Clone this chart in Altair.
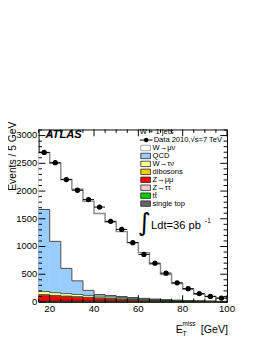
import altair as alt
import pandas as pd

# ---------------- data ----------------
bin_lo = [15, 20, 25, 30, 35, 40, 45, 50, 55, 60, 65, 70, 75, 80, 85, 90, 95]
bin_w = 5
data_vals = [2697, 2511, 2207, 2014, 1846, 1711, 1454, 1308, 1070, 858, 700, 520, 345, 240, 152, 100, 70]

single_top = [3, 3, 4, 4, 4, 4, 4, 4, 3, 3, 3, 3, 2, 2, 2, 1, 1]
ttbar = [5, 6, 7, 8, 8, 9, 9, 9, 9, 8, 8, 7, 6, 5, 5, 4, 3]
z_tautau = [8, 7, 6, 5, 4, 4, 3, 3, 2, 2, 1, 1, 1, 1, 0, 0, 0]
z_mumu = [105, 90, 78, 68, 58, 48, 40, 32, 25, 19, 14, 10, 7, 5, 4, 3, 2]
dibosons = [12, 12, 11, 11, 10, 10, 9, 8, 8, 7, 6, 5, 5, 4, 3, 3, 2]
w_taunu = [55, 50, 45, 40, 35, 30, 26, 22, 18, 14, 11, 8, 6, 4, 3, 2, 1]
qcd = [1480, 925, 455, 245, 90, 30, 25, 20, 15, 12, 10, 8, 6, 5, 4, 3, 2]
w_munu = [1022, 1407, 1601, 1651, 1607, 1459, 1327, 1170, 990, 825, 630, 455, 300, 202, 119, 84, 54]

# stacking order bottom -> top
stack_names = ["single top", "tt\u0304", "Z\u2192\u03c4\u03c4", "Z\u2192\u03bc\u03bc", "dibosons",
               "W\u2192\u03c4\u03bd", "QCD", "W\u2192\u03bc\u03bd"]
stack_vals = [single_top, ttbar, z_tautau, z_mumu, dibosons, w_taunu, qcd, w_munu]
stack_colors = ["#666666", "#00cc00", "#ffcccc", "#ff0000", "#ffcc00", "#ffff99", "#99ccff", "#ffffff"]

y_major = [0, 500, 1000, 1500, 2000, 2500, 3000]
y_minor = [v for v in range(0, 3101, 100) if v % 500 != 0]
x_major = [20, 40, 60, 80, 100]
x_minor = [v for v in range(15, 101, 5) if v % 20 != 0]

# ---------------- tables ----------------
rows = []
steps = []
tops_per_comp = {}
for i, lo in enumerate(bin_lo):
    base = 0
    for name, vals in zip(stack_names, stack_vals):
        rows.append({"comp": name, "x0": lo, "x1": lo + bin_w, "y0": base, "y1": base + vals[i]})
        base += vals[i]
        tops_per_comp.setdefault(name, []).append(base)
for name in stack_names:
    tops = tops_per_comp[name]
    for i, lo in enumerate(bin_lo):
        steps.append({"comp": name, "x": lo, "y": tops[i]})
    steps.append({"comp": name, "x": bin_lo[-1] + bin_w, "y": tops[-1]})
stack_df = pd.DataFrame(rows)
step_df = pd.DataFrame(steps)
data_df = pd.DataFrame({
    "xc": [lo + bin_w / 2 for lo in bin_lo],
    "xlo": bin_lo,
    "xhi": [lo + bin_w for lo in bin_lo],
    "y": data_vals,
})

W, H = 194.4, 178
FONT = "Liberation Sans"
xs = alt.Scale(domain=[15, 100], nice=False, zero=False)
ys = alt.Scale(domain=[0, 3110], nice=False, zero=False)

color_scale = alt.Scale(domain=stack_names, range=stack_colors)

rects = alt.Chart(stack_df).mark_rect(strokeWidth=0.4).encode(
    x=alt.X("x0:Q", scale=xs, axis=None),
    x2="x1:Q",
    y=alt.Y("y0:Q", scale=ys, axis=None),
    y2="y1:Q",
    color=alt.Color("comp:N", scale=color_scale, legend=None),
    stroke=alt.Stroke("comp:N", scale=color_scale, legend=None),
)

inner_steps = alt.Chart(step_df).transform_filter(
    alt.FieldOneOfPredicate(field="comp", oneOf=stack_names[:6])
).mark_line(interpolate="step-after", color="#222222", strokeWidth=0.7).encode(
    x=alt.X("x:Q", scale=xs, axis=None),
    y=alt.Y("y:Q", scale=ys, axis=None),
    detail="comp:N",
)
qcd_step = alt.Chart(step_df).transform_filter(
    alt.FieldEqualPredicate(field="comp", equal="QCD")
).mark_line(interpolate="step-after", color="#444444", strokeWidth=1).encode(
    x=alt.X("x:Q", scale=xs, axis=None),
    y=alt.Y("y:Q", scale=ys, axis=None),
)
w_step = alt.Chart(step_df).transform_filter(
    alt.FieldEqualPredicate(field="comp", equal=stack_names[7])
).mark_line(interpolate="step-after", color="#8c8c8c", strokeWidth=1.5).encode(
    x=alt.X("x:Q", scale=xs, axis=None),
    y=alt.Y("y:Q", scale=ys, axis=None),
)

err = alt.Chart(data_df).mark_rule(color="black", strokeWidth=1).encode(
    x=alt.X("xlo:Q", scale=xs, axis=None), x2="xhi:Q",
    y=alt.Y("y:Q", scale=ys, axis=None),
)
pts = alt.Chart(data_df).mark_circle(size=30, color="black", opacity=1).encode(
    x=alt.X("xc:Q", scale=xs, axis=None),
    y=alt.Y("y:Q", scale=ys, axis=None),
)

layers = [rects, inner_steps, qcd_step, w_step, err, pts]

# ticks (inward, all four sides)
def ytick(vals, x0, x1):
    return alt.Chart(pd.DataFrame({"v": vals})).mark_rule(color="black", strokeWidth=1).encode(
        y=alt.Y("v:Q", scale=ys, axis=None), x=alt.value(x0), x2=alt.value(x1))

def xtick(vals, y0, y1):
    return alt.Chart(pd.DataFrame({"v": vals})).mark_rule(color="black", strokeWidth=1).encode(
        x=alt.X("v:Q", scale=xs, axis=None), y=alt.value(y0), y2=alt.value(y1))

layers += [ytick(y_major, 0, 7), ytick(y_minor, 0, 3.5),
           ytick(y_major, W, W - 7), ytick(y_minor, W, W - 3.5),
           xtick(x_major, H, H - 7), xtick(x_minor, H, H - 3.5),
           xtick(x_major, 0, 7), xtick(x_minor, 0, 3.5)]

# tick labels
layers.append(alt.Chart(pd.DataFrame({"v": y_major})).mark_text(
    align="right", baseline="middle", fontSize=9.7, font=FONT, color="black").encode(
    y=alt.Y("v:Q", scale=ys, axis=None), x=alt.value(-1.5), text="v:Q"))
layers.append(alt.Chart(pd.DataFrame({"v": x_major})).mark_text(
    align="center", baseline="top", fontSize=10, font=FONT, color="black").encode(
    x=alt.X("v:Q", scale=xs, axis=None), y=alt.value(H + 2.5), text="v:Q"))

one = pd.DataFrame({"a": [0]})

def txt(s, x, y, size, align="left", baseline="alphabetic", weight="normal", style="normal",
        font=FONT, angle=0):
    return alt.Chart(one).mark_text(align=align, baseline=baseline, fontSize=size, fontWeight=weight,
                                    fontStyle=style, font=font, color="black", angle=angle).encode(
        x=alt.value(x), y=alt.value(y), text=alt.value(s))

# y axis title
layers.append(txt("Events / 5 GeV", -31.6, -8, 10.6, align="right", baseline="top", angle=270))

# ATLAS label
layers.append(txt("ATLAS", 7, 8.5, 11.5, weight="bold", style="italic"))

# legend
leg_x_box0, leg_x_box1, leg_x_text = 105.4, 115.4, 117.6
layers.append(txt("W + 1 jets", 104.4, 2.8, 7.8, baseline="middle"))
row0 = 10.9
step_y = 8.2
layers.append(alt.Chart(one).mark_rule(color="black", strokeWidth=1).encode(
    x=alt.value(104.4), x2=alt.value(117.5), y=alt.value(row0)))
layers.append(alt.Chart(one).mark_circle(size=22, color="black", opacity=1).encode(
    x=alt.value(111), y=alt.value(row0)))
layers.append(txt("Data 2010,\u221as=7 TeV", 118.7, row0, 7.8, baseline="middle"))
legend_order = list(reversed(stack_names))
legend_colors = list(reversed(stack_colors))
for k, (name, col) in enumerate(zip(legend_order, legend_colors)):
    yc = row0 + step_y * (k + 1)
    stroke = "#8c8c8c" if k == 0 else "#222222"
    layers.append(alt.Chart(one).mark_rect(fill=col, stroke=stroke, strokeWidth=0.8).encode(
        x=alt.value(leg_x_box0), x2=alt.value(leg_x_box1),
        y=alt.value(yc - 2.8), y2=alt.value(yc + 2.8)))
    layers.append(txt(name, leg_x_text, yc, 7.8, baseline="middle"))

# luminosity
layers.append(txt("\u222b", 115.6, 105, 26, align="right", font="DejaVu Sans"))
layers.append(txt("Ldt=36 pb", 116.0, 102.7, 11.5))
layers.append(txt("-1", 171.8, 96, 6.5))

# x axis title
layers.append(txt("E", 141.5, 210, 11))
layers.append(txt("miss", 148.5, 202.5, 6.5))
layers.append(txt("T", 148.5, 213, 7))
layers.append(txt("[GeV]", 195.5, 210, 11, align="right"))

chart = alt.layer(*layers).properties(
    width=W, height=H,
    autosize=alt.AutoSizeParams(type="none"),
    padding={"left": 31.6, "top": 120, "right": 32, "bottom": 38},
).configure_view(stroke="black", strokeWidth=1)

chart.save("out.html", embed_options={"renderer": "svg", "actions": False})
